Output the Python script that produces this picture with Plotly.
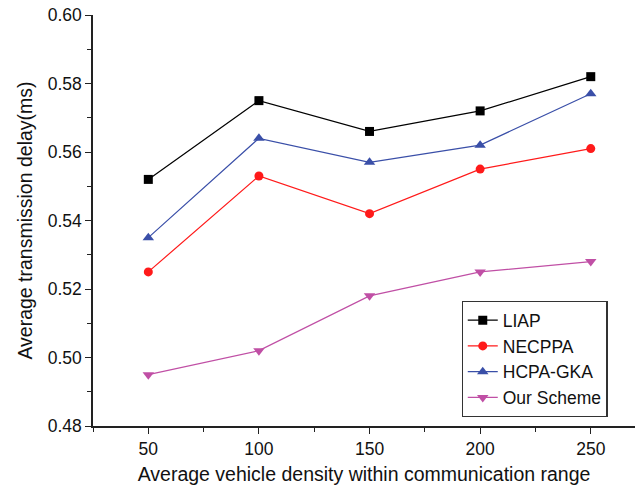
import plotly.graph_objects as go

density = [50, 100, 150, 200, 250]
liap = [0.552, 0.575, 0.566, 0.572, 0.582]
necppa = [0.525, 0.553, 0.542, 0.555, 0.561]
hcpa_gka = [0.535, 0.564, 0.557, 0.562, 0.577]
our_scheme = [0.495, 0.502, 0.518, 0.525, 0.528]

series = [
    ("LIAP", liap, "#000000", "square", 9),
    ("NECPPA", necppa, "#ff1a1a", "circle", 9),
    ("HCPA-GKA", hcpa_gka, "#3a4fa8", "triangle-up", 10),
    ("Our Scheme", our_scheme, "#c04fa5", "triangle-down", 10),
]

fig = go.Figure()
for name, vals, color, sym, sz in series:
    fig.add_trace(go.Scatter(
        x=density, y=vals, name=name, mode="lines+markers",
        line=dict(color=color, width=1.2),
        marker=dict(symbol=sym, size=sz, color=color),
    ))

font_family = "Liberation Sans, Arial, sans-serif"
fig.update_layout(
    width=636, height=489,
    margin=dict(l=93, r=1, t=15, b=63),
    paper_bgcolor="white", plot_bgcolor="white",
    font=dict(family=font_family, size=17.5, color="#111111"),
    showlegend=True,
    legend=dict(
        x=0.68, y=0.304, xanchor="left", yanchor="top",
        bordercolor="#333333", borderwidth=1.2, bgcolor="white",
        font=dict(size=17.5, family=font_family),
        tracegroupgap=0,
    ),
    xaxis=dict(
        range=[25, 270], tickvals=density, ticktext=[str(d) for d in density],
        showline=True, linecolor="#222222", linewidth=1.5,
        ticks="outside", ticklen=6, tickcolor="#222222",
        minor=dict(ticks="outside", ticklen=4, dtick=25, tick0=25, tickcolor="#222222"),
        showgrid=False, zeroline=False, automargin=False,
        title=dict(text="Average vehicle density within communication range",
                   font=dict(size=19.5), standoff=10),
    ),
    yaxis=dict(
        range=[0.48, 0.60], tickvals=[0.48, 0.50, 0.52, 0.54, 0.56, 0.58, 0.60],
        ticktext=["0.48", "0.50", "0.52", "0.54", "0.56", "0.58", "0.60"],
        showline=True, linecolor="#222222", linewidth=1.5,
        ticks="outside", ticklen=6, tickcolor="#222222",
        minor=dict(ticks="outside", ticklen=4, dtick=0.01, tick0=0.48, tickcolor="#222222"),
        showgrid=False, zeroline=False, automargin=False,
        title=dict(text="Average transmission delay(ms)", font=dict(size=19.5), standoff=10),
    ),
)

fig.write_html("out.html", config={"displayModeBar": False},
               post_script="document.body.style.margin='0';")
